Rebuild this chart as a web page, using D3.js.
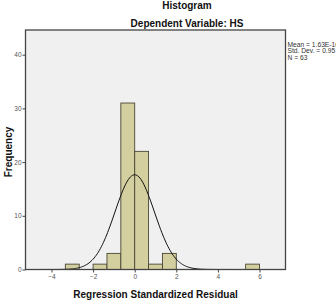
<!DOCTYPE html>
<html><head><meta charset="utf-8">
<script src="https://cdn.jsdelivr.net/npm/d3@7"></script>
<style>
html,body{margin:0;padding:0;background:#fff;overflow:hidden;}
text{font-family:"Liberation Sans",Arial,sans-serif;}
</style></head>
<body>
<svg id="c" width="336" height="305"></svg>
<script>
// Data
const binEdgesLow = [-10/3, -8/3, -2, -4/3, -2/3, 0, 2/3, 4/3, 16/3];
const binWidth = 2/3;
const counts = [1, 0, 1, 3, 31, 22, 1, 3, 1];
const xTicks = [-4, -2, 0, 2, 4, 6];
const yTicks = [0, 10, 20, 30, 40];
const statsLabels = ["Mean = 1.63E-16", "Std. Dev. = 0.95", "N = 63"];
const mean = 0.0000000000000001634;
const sd = 0.95;
const N = 63;

const svg = d3.select("#c");
const L = 25.5, R = 285.5, T = 30, B = 269.5;
const x = d3.scaleLinear().domain([-5.25, 7.25]).range([L, R]);
const y = d3.scaleLinear().domain([0, 44.6]).range([B, T]);

// plot background
svg.append("rect").attr("x", L).attr("y", T).attr("width", R - L).attr("height", B - T)
  .attr("fill", "#f0f0f0");

// bars
const bins = binEdgesLow.map((lo, i) => ({lo, hi: lo + binWidth, n: counts[i]})).filter(d => d.n > 0);
svg.append("g").selectAll("rect").data(bins).join("rect")
  .attr("x", d => x(d.lo)).attr("y", d => y(d.n))
  .attr("width", d => x(d.hi) - x(d.lo)).attr("height", d => y(0) - y(d.n))
  .attr("fill", "#d4cf9e").attr("stroke", "#4a4636").attr("stroke-width", 0.9);

// normal curve
const pts = d3.range(-5.25, 7.25001, 0.05).map(v => [v, N * binWidth * Math.exp(-0.5 * ((v - mean) / sd) ** 2) / (sd * Math.sqrt(2 * Math.PI))]);
svg.append("path").datum(pts)
  .attr("d", d3.line().x(d => x(d[0])).y(d => y(d[1])).curve(d3.curveLinear))
  .attr("fill", "none").attr("stroke", "#111").attr("stroke-width", 1);

// frame
svg.append("rect").attr("x", L).attr("y", T).attr("width", R - L).attr("height", B - T)
  .attr("fill", "none").attr("stroke", "#444").attr("stroke-width", 1.3);

// axes
const xAxis = svg.append("g").attr("transform", `translate(0,${B})`)
  .call(d3.axisBottom(x).tickValues(xTicks).tickSize(3).tickSizeOuter(0).tickPadding(2));
const yAxis = svg.append("g").attr("transform", `translate(${L},0)`)
  .call(d3.axisLeft(y).tickValues(yTicks).tickSize(3).tickSizeOuter(0).tickPadding(1));
[xAxis, yAxis].forEach(a => {
  a.select(".domain").remove();
  a.selectAll("line").attr("stroke", "#444");
  a.selectAll("text").attr("fill", "#555").style("font-size", "6.5px").style("font-family", '"Liberation Sans",Arial,sans-serif');
});

// titles
svg.append("text").attr("x", 187).attr("y", 8.5).attr("text-anchor", "middle")
  .style("font-size", "10px").style("font-weight", "bold").attr("fill", "#111").text("Histogram");
svg.append("text").attr("x", 187).attr("y", 26.5).attr("text-anchor", "middle")
  .style("font-size", "10px").style("font-weight", "bold").attr("fill", "#111").text("Dependent Variable: HS");
svg.append("text").attr("x", 155.5).attr("y", 297.5).attr("text-anchor", "middle")
  .style("font-size", "10px").style("font-weight", "bold").attr("fill", "#111").text("Regression Standardized Residual");
svg.append("text").attr("transform", "translate(11.5,152) rotate(-90)").attr("text-anchor", "middle")
  .style("font-size", "10px").style("font-weight", "bold").attr("fill", "#111").text("Frequency");

// stats
svg.append("g").selectAll("text").data(statsLabels).join("text")
  .attr("x", 287.5).attr("y", (d, i) => 47 + i * 6.3)
  .style("font-size", "6.7px").attr("fill", "#333").text(d => d);
</script>
</body></html>
